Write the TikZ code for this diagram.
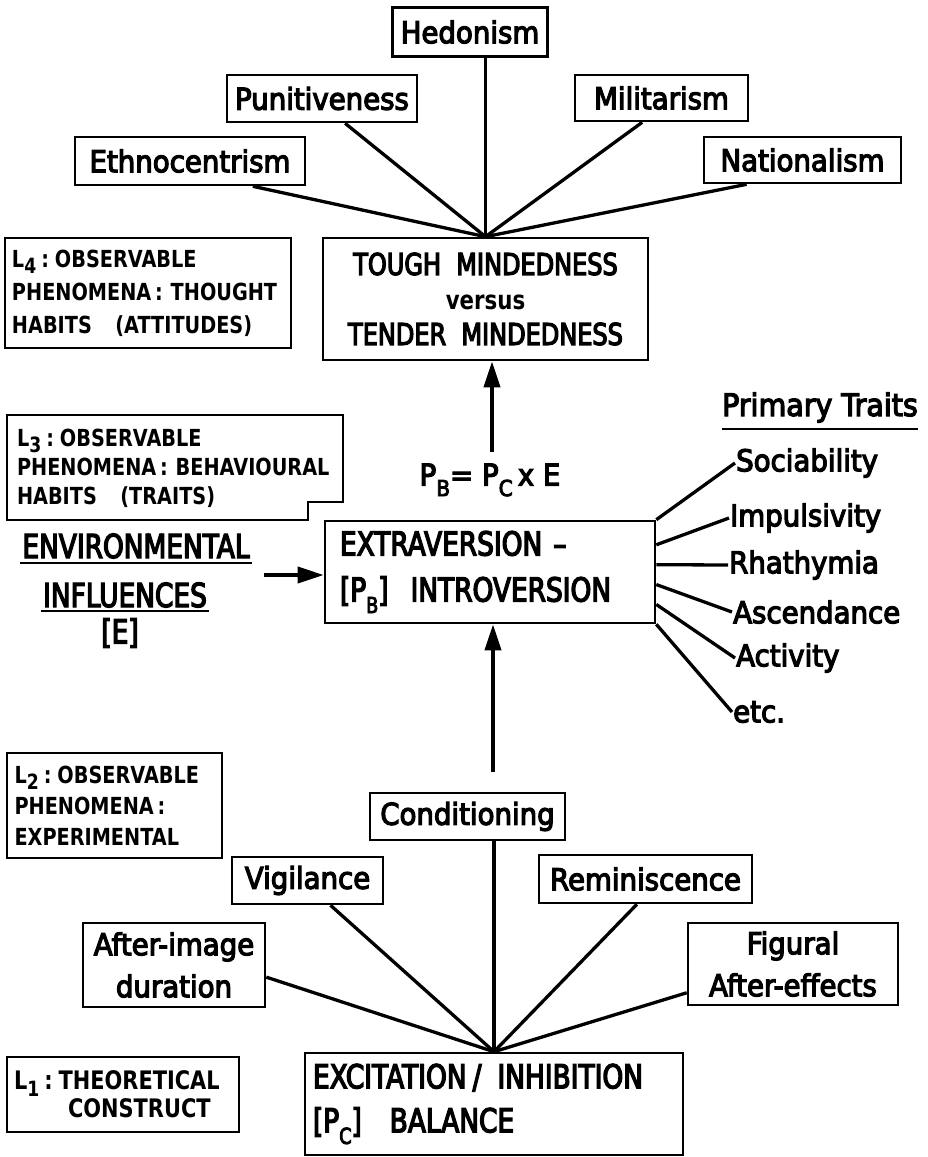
\documentclass[tikz,border=0pt]{standalone}
\usepackage{fontspec}
\setmainfont{DejaVu Sans}
\newfontfamily\capf{DejaVu Sans}[FakeStretch=0.8, FakeBold=4]
\newfontfamily\lcf{DejaVu Sans}[FakeStretch=0.92, FakeBold=4]
\newfontfamily\lbf{DejaVu Sans}[FakeStretch=0.82]
\usetikzlibrary{arrows.meta,calc}
\newcommand{\lsb}[1]{\raisebox{-0.25em}{\fontsize{21}{21}\selectfont #1}}
\newcommand{\lcol}{\hspace{5pt}:\hspace{6pt}}
\newcommand{\psb}[1]{\raisebox{-0.35em}{\fontsize{22}{22}\selectfont #1}}
\begin{document}
\begin{tikzpicture}[x=1pt,y=-1pt,
  boxline/.style={draw, line width=2.6pt},
  tbox/.style={boxline, inner sep=0pt, align=center, font=\lcf\fontsize{30}{42}\selectfont},
  bigbox/.style={boxline, inner sep=0pt, font=\capf\fontsize{33}{46}\selectfont},
  lbox/.style={boxline, inner sep=0pt, align=left},
  lfont/.style={font=\lbf\bfseries\fontsize{23.5}{#1}\selectfont},
  trait/.style={inner sep=1pt, anchor=west, font=\lcf\fontsize{30}{36}\selectfont},
  plain/.style={inner sep=0pt, font=\capf\fontsize{33}{40}\selectfont},
  conn/.style={line width=3.3pt},
  arr/.style={line width=3.8pt, -{Triangle[length=26pt,width=16pt]}},
  uline/.style={line width=2.8pt}
]
\useasboundingbox (0,0) rectangle (928,1157);

% ---- top level: attitudes
\node[tbox, minimum width=155, minimum height=49] (hed) at (470,32) {Hedonism};
\node[tbox, minimum width=190, minimum height=47] (pun) at (322,98.5) {Punitiveness};
\node[tbox, minimum width=173, minimum height=46] (mil) at (661.5,98) {Militarism};
\node[tbox, minimum width=230, minimum height=48] (eth) at (190,161) {Ethnocentrism};
\node[tbox, minimum width=197, minimum height=46] (nat) at (802.5,160) {Nationalism};

\node[bigbox, align=center, minimum width=325, minimum height=122,
      font=\capf\fontsize{30}{35}\selectfont] (tough) at (485.5,299)
  {TOUGH\ \ MINDEDNESS\\{\lbf\bfseries\fontsize{26}{35}\selectfont versus}\\TENDER\ \ MINDEDNESS};

\draw[conn] (tough.north) -- (tough.north |- hed.south);
\draw[conn] (tough.north) -- ($(pun.south west)!0.62!(pun.south east)$);
\draw[conn] (tough.north) -- ($(eth.south west)!0.77!(eth.south east)$);
\draw[conn] (tough.north) -- ($(mil.south west)!0.39!(mil.south east)$);
\draw[conn] (tough.north) -- ($(nat.south west)!0.22!(nat.south east)$);

% ---- level labels
\node[lbox, lfont=33, minimum width=286, minimum height=110, text width=272] (l4) at (148,293)
  {L\lsb{4}\lcol OBSERVABLE\\PHENOMENA\,: THOUGHT\\HABITS\ \ \ (ATTITUDES)};

\draw[boxline] (7,415) -- (343,415) -- (343,502) -- (308,502) -- (308,520) -- (7,520) -- cycle;
\node[inner sep=0pt, align=left, lfont=29, text width=322] (l3) at (178,468)
  {L\lsb{3}\lcol OBSERVABLE\\PHENOMENA\,: BEHAVIOURAL\\HABITS\ \ \ (TRAITS)};

\node[lbox, lfont=31, minimum width=215, minimum height=105, text width=200] (l2) at (114.5,805.5)
  {L\lsb{2}\lcol OBSERVABLE\\PHENOMENA\,:\\EXPERIMENTAL};

\node[lbox, font=\lbf\bfseries\fontsize{25.5}{28}\selectfont, minimum width=232, minimum height=75, text width=218] (l1) at (123,1094.5)
  {L\lsb{1}\lcol THEORETICAL\\\hspace*{54pt}CONSTRUCT};

% ---- middle
\node[inner sep=0pt, font=\lcf\fontsize{30}{36}\selectfont] (formula) at (490,480)
  {P\psb{B}= P\psb{C}\,x E};

\node[bigbox, align=left, minimum width=330, minimum height=102, text width=300] (extra) at (490,572)
  {EXTRAVERSION\ –\\{[}P\psb{B}{]}\ \ INTROVERSION};

\coordinate (uparr) at (492,452);
\draw[arr] (uparr) -- (uparr |- tough.south);

\node[plain, anchor=base] (env1) at (136,558) {ENVIRONMENTAL};
\node[plain, anchor=base] (env2) at (125,607) {INFLUENCES};
\node[plain] (envE) at (120,633) {[E]};
\draw[uline] ([xshift=-2pt,yshift=-5pt]env1.base west) -- ([xshift=2pt,yshift=-5pt]env1.base east);
\draw[uline] ([xshift=-2pt,yshift=-4pt]env2.base west) -- ([xshift=2pt,yshift=-4pt]env2.base east);
\coordinate (envarr) at (264,575);
\draw[arr] (envarr) -- (envarr -| extra.west);

% ---- primary traits
\node[inner sep=0pt, anchor=base, font=\lcf\fontsize{31}{36}\selectfont] (pt) at (820,416) {Primary Traits};
\draw[uline] ([yshift=-13pt]pt.base west) -- ([yshift=-13pt]pt.base east);

\node[trait] (soc) at (735,463) {Sociability};
\node[trait] (imp) at (729,518) {Impulsivity};
\node[trait] (rha) at (728,565) {Rhathymia};
\node[trait] (asc) at (732,612) {Ascendance};
\node[trait] (act) at (735,658) {Activity};
\node[trait] (etc) at (732,712) {etc.};

\draw[conn] (extra.north east) -- (soc.west);
\draw[conn] ($(extra.north east)!0.24!(extra.south east)$) -- (imp.west);
\draw[conn] ($(extra.north east)!0.43!(extra.south east)$) -- (rha.west);
\draw[conn] ($(extra.north east)!0.62!(extra.south east)$) -- (asc.west);
\draw[conn] ($(extra.north east)!0.81!(extra.south east)$) -- (act.west);
\draw[conn] (extra.south east) -- (etc.west);

% ---- bottom: experimental phenomena
\coordinate (lowarr) at (493,772);
\draw[arr] (lowarr) -- (lowarr |- extra.south);

\node[tbox, minimum width=195, minimum height=47] (cond) at (467.5,816.5) {Conditioning};
\node[tbox, minimum width=151, minimum height=47] (vig) at (307.5,880.5) {Vigilance};
\node[tbox, minimum width=213, minimum height=48] (rem) at (645.5,879) {Reminiscence};
\node[tbox, minimum width=182, minimum height=84] (aft) at (174,965) {After-image\\duration};
\node[tbox, minimum width=210, minimum height=82] (fig) at (793,964) {Figural\\After-effects};

\node[bigbox, align=left, minimum width=378, minimum height=102, text width=362,
      font=\capf\fontsize{33}{44}\selectfont] (exc) at (494,1104)
  {EXCITATION\hspace{6pt}/\hspace{16pt}INHIBITION\\{[}P\psb{C}{]}\hspace{28pt}BALANCE};

\draw[conn] (exc.north) -- (exc.north |- cond.south);
\draw[conn] (exc.north) -- ($(vig.south west)!0.65!(vig.south east)$);
\draw[conn] (exc.north) -- ($(rem.south west)!0.46!(rem.south east)$);
\draw[conn] (exc.north) -- ($(aft.north east)!0.64!(aft.south east)$);
\draw[conn] (exc.north) -- ($(fig.north west)!0.84!(fig.south west)$);
\end{tikzpicture}
\end{document}
